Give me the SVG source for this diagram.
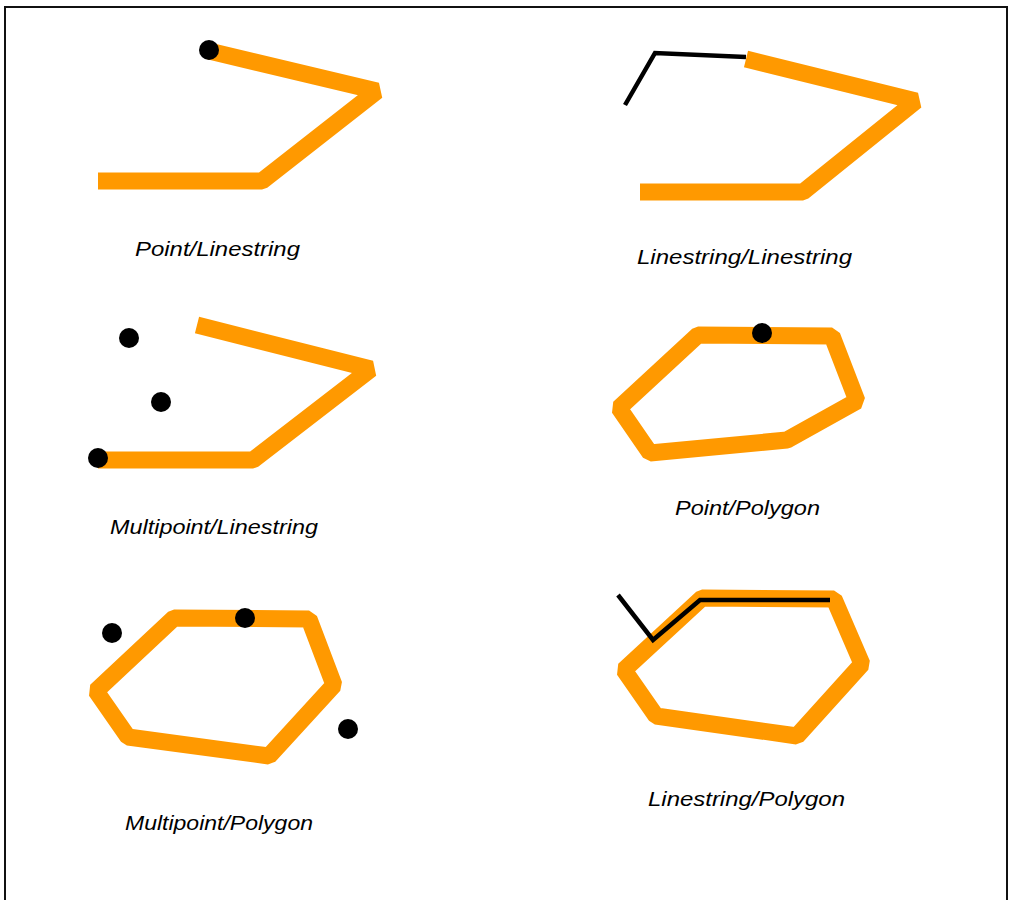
<svg xmlns="http://www.w3.org/2000/svg" width="1009" height="900" viewBox="0 0 1009 900">
<style>
.geo{fill:none;stroke:#FF9900;stroke-width:17;stroke-linejoin:bevel;stroke-linecap:butt}
.blk{fill:none;stroke:#000;stroke-width:4.5;stroke-linejoin:miter}
.pt{fill:#000}
.lbl{font-family:"Liberation Sans",Arial,sans-serif;font-style:italic;font-size:21px;fill:#000}
.frame{fill:none;stroke:#111;stroke-width:2}
</style>
<rect width="1009" height="900" fill="#fff"/>
<path class="frame" d="M5,905 V7 H1007 V905"/>
<g id="point-linestring">
<polyline class="geo" points="209,51 377,91 262,181 98,181"/>
<circle class="pt" cx="209" cy="50" r="10"/>
<text class="lbl" x="135" y="256" textLength="165" lengthAdjust="spacingAndGlyphs">Point/Linestring</text>
</g>
<g id="linestring-linestring">
<polyline class="blk" points="625,105 655,53 746,57"/>
<polyline class="geo" points="746,59 916,101 803,192 640,192"/>
<text class="lbl" x="637" y="264" textLength="215" lengthAdjust="spacingAndGlyphs">Linestring/Linestring</text>
</g>
<g id="multipoint-linestring">
<polyline class="geo" points="197,325 371,369 253,460 98,460"/>
<circle class="pt" cx="129" cy="338" r="10"/>
<circle class="pt" cx="161" cy="402" r="10"/>
<circle class="pt" cx="98" cy="458" r="10"/>
<text class="lbl" x="110" y="534" textLength="208" lengthAdjust="spacingAndGlyphs">Multipoint/Linestring</text>
</g>
<g id="point-polygon">
<polygon class="geo" points="698,335 832,336 857,401 787,440 650,453 619,408"/>
<circle class="pt" cx="762" cy="333" r="10"/>
<text class="lbl" x="675" y="515" textLength="145" lengthAdjust="spacingAndGlyphs">Point/Polygon</text>
</g>
<g id="multipoint-polygon">
<polygon class="geo" points="174,618 309,619 334,685 269,756 128,737 96,691"/>
<circle class="pt" cx="112" cy="633" r="10"/>
<circle class="pt" cx="245" cy="618" r="10"/>
<circle class="pt" cx="348" cy="729" r="10"/>
<text class="lbl" x="125" y="830" textLength="188" lengthAdjust="spacingAndGlyphs">Multipoint/Polygon</text>
</g>
<g id="linestring-polygon">
<polygon class="geo" points="702,598 834,599 862,664 797,736 656,716 624,670"/>
<polyline class="blk" points="618,595 653,640 700,600 830,600"/>
<text class="lbl" x="648" y="806" textLength="197" lengthAdjust="spacingAndGlyphs">Linestring/Polygon</text>
</g>
<g id="connectors"></g>
</svg>
